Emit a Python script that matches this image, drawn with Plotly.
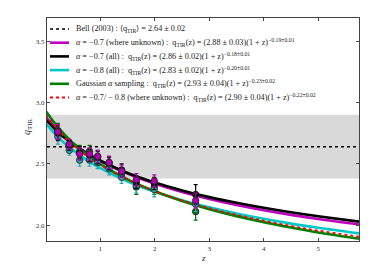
import plotly.graph_objects as go

# ---------------- data ----------------
bell_mean = 2.64
bell_scatter = 0.26
x_range = [0.02, 5.75]
y_range = [1.87, 3.69]

# fitted curves
z_curve = [0, 0.25, 0.5, 0.75, 1, 1.5, 2, 2.5, 3, 3.5, 4, 4.5, 5, 5.75]
q_magenta = [2.880, 2.760, 2.666, 2.589, 2.525, 2.420, 2.337, 2.270, 2.213, 2.164, 2.121, 2.083, 2.049, 2.004]
q_black = [2.860, 2.747, 2.659, 2.586, 2.525, 2.425, 2.347, 2.283, 2.228, 2.182, 2.141, 2.104, 2.072, 2.028]
q_cyan = [2.830, 2.706, 2.610, 2.530, 2.464, 2.356, 2.272, 2.203, 2.145, 2.095, 2.051, 2.012, 1.978, 1.932]
q_green = [2.930, 2.783, 2.669, 2.576, 2.498, 2.373, 2.276, 2.197, 2.130, 2.073, 2.024, 1.980, 1.940, 1.889]
q_red = [2.900, 2.761, 2.653, 2.564, 2.490, 2.371, 2.277, 2.201, 2.138, 2.083, 2.035, 1.993, 1.955, 1.905]

# binned data points
z_pts = [0.22, 0.43, 0.62, 0.80, 0.95, 1.16, 1.39, 1.66, 1.99, 2.75]
pts_black = [2.75, 2.65, 2.59, 2.57, 2.55, 2.50, 2.45, 2.35, 2.34, 2.25]
pts_green = [2.77, 2.66, 2.60, 2.60, 2.56, 2.51, 2.42, 2.31, 2.31, 2.11]
pts_cyan = [2.72, 2.61, 2.53, 2.53, 2.51, 2.46, 2.39, 2.32, 2.29, 2.17]
pts_magenta = [2.76, 2.66, 2.58, 2.58, 2.56, 2.51, 2.44, 2.37, 2.36, 2.20]
err_black = [0.06, 0.04, 0.05, 0.05, 0.05, 0.05, 0.05, 0.05, 0.05, 0.08]
err_green = [0.06, 0.04, 0.05, 0.05, 0.05, 0.05, 0.05, 0.06, 0.06, 0.07]
err_cyan = [0.06, 0.04, 0.05, 0.05, 0.05, 0.05, 0.05, 0.06, 0.06, 0.06]
err_magenta = [0.06, 0.04, 0.05, 0.05, 0.05, 0.05, 0.05, 0.05, 0.05, 0.06]

labels = [
    "Bell (2003) : ⟨q<sub>TIR</sub>⟩ = 2.64 ± 0.02",
    "<i>α</i> = −0.7 (where unknown) :  q<sub>TIR</sub>(z) = (2.88 ± 0.03)(1 + z)<sup>−0.19±0.01</sup>",
    "<i>α</i> = −0.7 (all) :  q<sub>TIR</sub>(z) = (2.86 ± 0.02)(1 + z)<sup>−0.18±0.01</sup>",
    "<i>α</i> = −0.8 (all) :  q<sub>TIR</sub>(z) = (2.83 ± 0.02)(1 + z)<sup>−0.20±0.01</sup>",
    "Gaussian <i>α</i> sampling :  q<sub>TIR</sub>(z) = (2.93 ± 0.04)(1 + z)<sup>−0.23±0.02</sup>",
    "<i>α</i> = −0.7/ − 0.8 (where unknown) :  q<sub>TIR</sub>(z) = (2.90 ± 0.04)(1 + z)<sup>−0.22±0.02</sup>",
]

C_MAG = "#bf00bf"
C_BLK = "#000000"
C_CYA = "#00c8c8"
C_GRN = "#008000"
C_RED = "#ff0000"

# page offset (default body margin) is compensated by a smaller figure
OFF = 8
W, H = 391 - OFF, 268 - OFF
ML, MR, MT, MB = 47 - OFF, 32, 18 - OFF, 27
PW, PH = W - ML - MR, H - MT - MB

fig = go.Figure()

# Bell band
fig.add_shape(type="rect", xref="paper", x0=0, x1=1, yref="y",
              y0=bell_mean - bell_scatter, y1=bell_mean + bell_scatter,
              fillcolor="#d9d9d9", line_width=0, layer="below")

styles = [
    (C_BLK, 1.5, "dot"),
    (C_MAG, 2.6, "solid"),
    (C_BLK, 2.6, "solid"),
    (C_CYA, 2.6, "solid"),
    (C_GRN, 2.6, "solid"),
    (C_RED, 1.8, "dot"),
]

fig.add_trace(go.Scatter(x=x_range, y=[bell_mean, bell_mean], mode="lines",
                         line=dict(color=styles[0][0], width=styles[0][1], dash=styles[0][2]),
                         showlegend=False))

curves = [q_magenta, q_black, q_cyan, q_green, q_red]
for ys, (col, wd, dash) in zip(curves, styles[1:]):
    fig.add_trace(go.Scatter(x=z_curve, y=ys, mode="lines", line_shape="spline",
                             line=dict(color=col, width=wd, dash=dash), showlegend=False))

pts = [
    (pts_green, err_green, "#0a6a0a"),
    (pts_cyan, err_cyan, "#2aa6b0"),
    (pts_black, err_black, "#000000"),
    (pts_magenta, err_magenta, "#b000b0"),
]
for ys, es, col in pts:
    fig.add_trace(go.Scatter(x=z_pts, y=ys, mode="markers", showlegend=False,
                             error_y=dict(type="data", array=es, color=col, thickness=1.2, width=2),
                             marker=dict(color=col, size=6.5, line=dict(color="#202020", width=0.8))))

font_family = "Liberation Serif"

# pixel (in the page) -> paper coords
def px2x(p):
    return (p - OFF - ML) / PW

def px2y(p):
    return 1 - (p - OFF - MT) / PH

# manual compact legend
row0, step = 29.0, 13.7
for i, (lab, (col, wd, dash)) in enumerate(zip(labels, styles)):
    yy = px2y(row0 + i * step)
    fig.add_shape(type="line", xref="paper", yref="paper", x0=px2x(50), x1=px2x(69),
                  y0=yy, y1=yy, line=dict(color=col, width=wd, dash=dash))
    fig.add_annotation(xref="paper", yref="paper", x=px2x(74), y=yy, text=lab,
                       showarrow=False, xanchor="left", yanchor="middle",
                       font=dict(family=font_family, size=8.2, color="#222222"))

# axis titles
fig.add_annotation(xref="paper", yref="paper", x=0.5, y=px2y(258), text="<i>z</i>",
                   showarrow=False, xanchor="center", yanchor="middle",
                   font=dict(family=font_family, size=9, color="#333333"))
fig.add_annotation(xref="paper", yref="paper", x=px2x(27), y=px2y(127),
                   text="<i>q</i><sub>TIR</sub>", textangle=-90,
                   showarrow=False, xanchor="center", yanchor="middle",
                   font=dict(family=font_family, size=10, color="#333333"))

fig.update_layout(
    width=W, height=H,
    margin=dict(l=ML, r=MR, t=MT, b=MB),
    paper_bgcolor="white", plot_bgcolor="white",
    font=dict(family=font_family, size=7, color="#333333"),
    showlegend=False,
    xaxis=dict(range=x_range, tickvals=[1, 2, 3, 4, 5], ticks="inside", ticklen=3,
               mirror="allticks", showline=True, linecolor="#444444", linewidth=1.2,
               showgrid=False, zeroline=False, automargin=False),
    yaxis=dict(range=y_range, tickvals=[2.0, 2.5, 3.0, 3.5], tickformat=".1f",
               ticks="inside", ticklen=3, mirror="allticks", showline=True,
               linecolor="#444444", linewidth=1.2, showgrid=False, zeroline=False,
               automargin=False),
)

fig.write_html("out.html")
